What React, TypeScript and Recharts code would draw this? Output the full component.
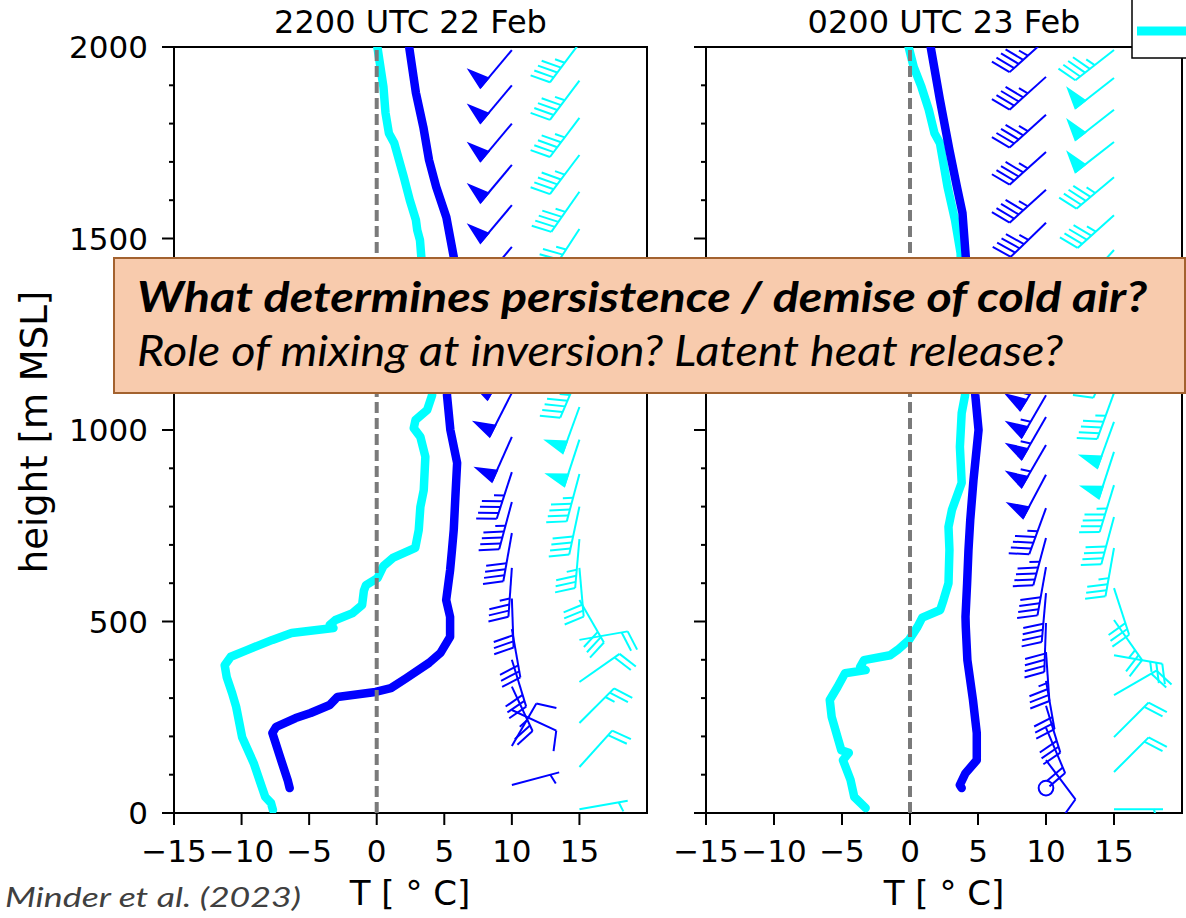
import React from "react";
import { ScatterChart, Scatter, XAxis, YAxis, ReferenceArea } from "recharts";

const CYAN = "#00ffff";
const BLUE = "#0000ff";
const GREY = "#7a7a7a";
const AXIS_FONT = "'DejaVu Sans', sans-serif";
const NOTE_FONT = "Lato, 'Open Sans', sans-serif";

const tempTicks = [-15, -10, -5, 0, 5, 10, 15];
const heightTicks = [0, 100, 200, 300, 400, 500, 600, 700, 800, 900, 1000, 1100, 1200, 1300, 1400, 1500, 1600, 1700, 1800, 1900, 2000];
const panelTitles = ["2200 UTC 22 Feb", "0200 UTC 23 Feb"];

// temperature profiles: [T (°C), height (m MSL)]
const cyan2200 = [
  [0.05, 2000], [0.5, 1895], [0.65, 1828], [0.9, 1775], [1.3, 1749], [2.0, 1661], [2.45, 1600], [2.9, 1548],
  [3.0, 1522], [3.2, 1496], [3.3, 1452], [4.1, 1091], [3.73, 1052], [2.87, 1026], [2.74, 1005], [3.23, 982],
  [3.6, 930], [3.48, 843], [3.23, 799], [3.11, 739], [2.85, 692], [1.19, 666], [0.5, 645], [0.06, 613],
  [-0.79, 595], [-0.95, 580], [-1.08, 543], [-1.78, 522], [-3.05, 504], [-3.48, 491], [-3.2, 483], [-6.3, 470],
  [-7.72, 452], [-9.56, 426], [-10.8, 408], [-11.25, 386], [-11.1, 355], [-10.7, 313], [-10.4, 277], [-9.96, 198],
  [-9.1, 130], [-8.25, 42], [-7.82, 26], [-7.68, 8],
];
const blue2200 = [
  [2.4, 2000], [2.9, 1880], [3.45, 1791], [3.87, 1705], [4.4, 1635], [5.15, 1556], [5.7, 1452], [5.2, 1091],
  [5.45, 1000], [5.95, 914], [5.82, 825], [5.7, 739], [5.57, 687], [5.43, 634], [5.14, 556], [5.43, 512],
  [5.43, 460], [4.72, 418], [3.87, 392], [2.18, 352], [1.05, 326], [-0.09, 316], [-2.91, 303], [-3.48, 282],
  [-4.89, 261], [-6.0, 248], [-7.44, 225], [-7.72, 209], [-7.15, 146], [-6.59, 86], [-6.44, 65],
];
const cyan0200 = [
  [-0.1, 2000], [0.27, 1948], [0.84, 1896], [1.38, 1836], [1.8, 1775], [2.2, 1749], [2.76, 1635], [3.31, 1548],
  [3.72, 1462], [4.05, 1091], [3.8, 1044], [3.67, 956], [3.8, 862], [3.08, 791], [2.83, 747], [2.9, 687],
  [2.83, 600], [2.46, 556], [2.22, 530], [0.9, 510], [0.55, 486], [-0.07, 452], [-0.9, 426], [-1.46, 412],
  [-3.39, 399], [-3.67, 381], [-3.26, 373], [-4.78, 365], [-5.33, 329], [-5.9, 295], [-5.76, 251], [-5.33, 198],
  [-5.05, 164], [-4.5, 157], [-4.93, 138], [-4.37, 86], [-4.1, 42], [-3.26, 13],
];
const blue0200 = [
  [1.52, 2000], [2.2, 1862], [2.9, 1731], [3.45, 1635], [3.86, 1566], [4.08, 1462], [4.8, 1091], [5.04, 1000],
  [4.67, 870], [4.43, 765], [4.3, 687], [4.2, 600], [4.08, 512], [4.1, 486], [4.22, 399], [4.63, 295],
  [4.91, 209], [4.91, 138], [4.08, 104], [3.66, 73], [3.8, 65],
];

// wind barbs: [height (m), speed (kt), direction (deg)]
const blueWind2200 = [
  [1992, 50, 220], [1900, 50, 220], [1800, 50, 220], [1692, 50, 220], [1587, 50, 220], [1478, 50, 220],
  [1380, 50, 216], [1285, 50, 213], [1190, 50, 210], [1097, 50, 207], [982, 50, 204], [890, 45, 198],
  [812, 45, 195], [731, 40, 190], [640, 35, 184], [560, 30, 178], [480, 30, 170], [400, 30, 163],
  [330, 25, 155], [269, 10, 115], [175, 10, 30], [73, 5, 75],
];
const cyanWind2200 = [
  [2010, 45, 217], [1912, 45, 217], [1815, 45, 217], [1718, 45, 217], [1622, 45, 215], [1525, 45, 213],
  [1430, 45, 210], [1335, 45, 208], [1240, 45, 205], [1150, 45, 203], [1060, 50, 200], [975, 50, 198],
  [885, 45, 195], [800, 40, 192], [715, 35, 185], [640, 30, 175], [556, 30, 150], [452, 20, 80],
  [342, 20, 55], [235, 25, 45], [120, 20, 42], [10, 5, 80],
];
const blueWind0200 = [
  [2020, 45, 228], [1922, 45, 228], [1823, 45, 228], [1726, 45, 228], [1627, 45, 228], [1541, 45, 226],
  [1450, 50, 222], [1350, 55, 218], [1250, 55, 215], [1160, 55, 212], [1091, 55, 210], [1034, 55, 210],
  [961, 55, 210], [883, 50, 208], [796, 45, 200], [718, 45, 195], [642, 40, 190], [574, 40, 185],
  [496, 40, 182], [420, 35, 176], [345, 30, 170], [280, 30, 163], [222, 20, 157], [138, 10, 143], [65, 0, 0],
];
const cyanWind0200 = [
  [1992, 45, 232], [1919, 50, 232], [1836, 50, 232], [1752, 50, 232], [1660, 45, 230], [1561, 45, 228],
  [1470, 45, 222], [1380, 45, 215], [1290, 45, 210], [1200, 45, 205], [1097, 45, 200], [1021, 50, 200],
  [943, 50, 198], [856, 45, 197], [773, 40, 195], [692, 35, 190], [587, 30, 162], [504, 25, 145],
  [412, 25, 100], [308, 20, 60], [198, 20, 45], [107, 20, 45], [10, 5, 90],
];

const zeroLine = [[0, 0], [0, 2000]];

// barb columns sit at these x positions (°C) on each panel
const BLUE_COL = 10;
const CYAN_COL = 15;

const STAFF = 49;

function Barb({ cx, cy, payload, color }: any) {
  if (cx == null || cy == null) return <g />;
  const lw = 2;
  const speed = Math.round(payload.spd / 5) * 5;
  if (speed < 5) {
    return <circle cx={cx} cy={cy} r={0.15 * STAFF} fill="none" stroke={color} strokeWidth={lw} />;
  }
  const r = (payload.dir * Math.PI) / 180;
  const dx = Math.sin(r);
  const dy = -Math.cos(r);
  const nx = -dy;
  const ny = dx;
  const H = 0.4 * STAFF;
  const W = 0.25 * STAFF;
  const S = 0.125 * STAFF;
  const at = (o: number, out = 0) => [cx + o * dx + out * nx, cy + o * dy + out * ny];

  const flags = Math.floor(speed / 50);
  const rest = speed - flags * 50;
  const full = Math.floor(rest / 10);
  const half = rest - full * 10 >= 5;

  let o = STAFF;
  const polys: string[] = [];
  const segs: number[][][] = [];
  for (let i = 0; i < flags; i++) {
    if (o !== STAFF) o += S / 2;
    const pts = [at(o), at(o - W / 2, H), at(o - W)];
    polys.push(pts.map((p) => p.join(",")).join(" "));
    o -= W + S;
  }
  for (let i = 0; i < full; i++) {
    segs.push([at(o), at(o + W / 2, H)]);
    o -= S;
  }
  if (half) {
    if (o === STAFF) o -= 1.5 * S;
    segs.push([at(o), at(o + W / 4, H / 2)]);
  }
  const tip = at(STAFF);
  return (
    <g stroke={color} strokeWidth={lw} fill={color}>
      <line x1={cx} y1={cy} x2={tip[0]} y2={tip[1]} />
      {segs.map((s, i) => (
        <line key={i} x1={s[0][0]} y1={s[0][1]} x2={s[1][0]} y2={s[1][1]} />
      ))}
      {polys.map((p, i) => (
        <polygon key={"f" + i} points={p} />
      ))}
    </g>
  );
}

function HeightTick({ x, y, payload, labels }: any) {
  const major = payload.value % 500 === 0;
  return (
    <g>
      <line x1={x - (major ? 12 : 5)} y1={y} x2={x} y2={y} stroke="#000" strokeWidth={2} />
      {major && labels && (
        <text x={x - 26} y={y} dy="0.36em" textAnchor="end" fontFamily={AXIS_FONT} fontSize={31} fill="#000">
          {payload.value}
        </text>
      )}
    </g>
  );
}

function TempTick({ x, y, payload }: any) {
  const v = payload.value;
  return (
    <g>
      <line x1={x} y1={y} x2={x} y2={y + 12} stroke="#000" strokeWidth={2} />
      <text x={x} y={y + 49} textAnchor="middle" fontFamily={AXIS_FONT} fontSize={31} fill="#000">
        {v < 0 ? "\u2212" + Math.abs(v) : String(v)}
      </text>
    </g>
  );
}

const nothing = () => <g />;

function Panel({ cyan, blue, cyanWind, blueWind, width, yAxisWidth, right, labels }: any) {
  const toPts = (arr: number[][]) => arr.map(([t, h]) => ({ t, h }));
  const toBarbs = (arr: number[][], col: number) => arr.map(([h, spd, dir]) => ({ t: col, h, spd, dir }));
  return (
    <ScatterChart width={width} height={918} margin={{ top: 47, right, bottom: 0, left: 0 }}>
      <XAxis
        type="number"
        dataKey="t"
        domain={[-15, 20]}
        allowDataOverflow
        ticks={tempTicks}
        interval={0}
        height={105}
        axisLine={false}
        tickLine={false}
        tickSize={0}
        tickMargin={0}
        tick={(p: any) => <TempTick {...p} />}
      />
      <YAxis
        type="number"
        dataKey="h"
        domain={[0, 2000]}
        allowDataOverflow
        ticks={heightTicks}
        interval={0}
        width={yAxisWidth}
        axisLine={false}
        tickLine={false}
        tickSize={0}
        tickMargin={0}
        tick={(p: any) => <HeightTick {...p} labels={labels} />}
      />
      <Scatter
        data={toPts(cyan)}
        line={{ stroke: CYAN, strokeWidth: 8.5, strokeLinejoin: "round", strokeLinecap: "round" }}
        shape={nothing}
        isAnimationActive={false}
      />
      <Scatter
        data={toPts(blue)}
        line={{ stroke: BLUE, strokeWidth: 8.5, strokeLinejoin: "round", strokeLinecap: "round" }}
        shape={nothing}
        isAnimationActive={false}
      />
      <Scatter
        data={toPts(zeroLine)}
        line={{ stroke: GREY, strokeWidth: 4, strokeDasharray: "11 5" }}
        shape={nothing}
        isAnimationActive={false}
      />
      <Scatter
        data={toBarbs(blueWind, BLUE_COL)}
        shape={(p: any) => <Barb {...p} color={BLUE} />}
        isAnimationActive={false}
      />
      <Scatter
        data={toBarbs(cyanWind, CYAN_COL)}
        shape={(p: any) => <Barb {...p} color={CYAN} />}
        isAnimationActive={false}
      />
      <ReferenceArea x1={-15} x2={20} y1={0} y2={2000} fill="none" stroke="#000" strokeWidth={2} ifOverflow="visible" />
    </ScatterChart>
  );
}

export default function App() {
  return (
    <div style={{ position: "absolute", left: 0, top: 0, width: 1186, height: 918, background: "#fff", overflow: "hidden" }}>
      <div style={{ position: "absolute", left: 0, top: 0 }}>
        <Panel cyan={cyan2200} blue={blue2200} cyanWind={cyanWind2200} blueWind={blueWind2200} width={660} yAxisWidth={174} right={13} labels />
      </div>
      <div style={{ position: "absolute", left: 600, top: 0 }}>
        <Panel cyan={cyan0200} blue={blue0200} cyanWind={cyanWind0200} blueWind={blueWind0200} width={586} yAxisWidth={106} right={4} labels={false} />
      </div>
      <svg width={1186} height={918} style={{ position: "absolute", left: 0, top: 0, pointerEvents: "none" }}>
        <text x={410.5} y={33} textAnchor="middle" fontFamily={AXIS_FONT} fontSize={32}>{panelTitles[0]}</text>
        <text x={944} y={33} textAnchor="middle" fontFamily={AXIS_FONT} fontSize={32}>{panelTitles[1]}</text>
        <text x={410} y={905} textAnchor="middle" fontFamily={AXIS_FONT} fontSize={34}>T [ ° C]</text>
        <text x={944} y={905} textAnchor="middle" fontFamily={AXIS_FONT} fontSize={34}>T [ ° C]</text>
        <text x={47} y={432} textAnchor="middle" fontFamily={AXIS_FONT} fontSize={37} transform="rotate(-90 47 432)">
          height [m MSL]
        </text>
        <rect x={1132} y={-10} width={80} height={68} fill="#fff" stroke="#000" strokeWidth={1.5} />
        <line x1={1137} y1={31} x2={1192} y2={31} stroke={CYAN} strokeWidth={9} />
        <rect x={114} y={258} width={1071} height={135} fill="#f8cbad" stroke="#a3622f" strokeWidth={2} />
        <text x={137} y={312} fontFamily={NOTE_FONT} fontSize={42} fontWeight="bold" fontStyle="italic" textLength={1010} lengthAdjust="spacingAndGlyphs">
          What determines persistence / demise of cold air?
        </text>
        <text x={137} y={366} fontFamily={NOTE_FONT} fontSize={42} fontStyle="italic" textLength={926} lengthAdjust="spacingAndGlyphs">
          Role of mixing at inversion? Latent heat release?
        </text>
        <text x={5} y={907} fontFamily={NOTE_FONT} fontSize={27} fontStyle="italic" fill="#404040" textLength={296} lengthAdjust="spacingAndGlyphs">
          Minder et al. (2023)
        </text>
      </svg>
    </div>
  );
}
